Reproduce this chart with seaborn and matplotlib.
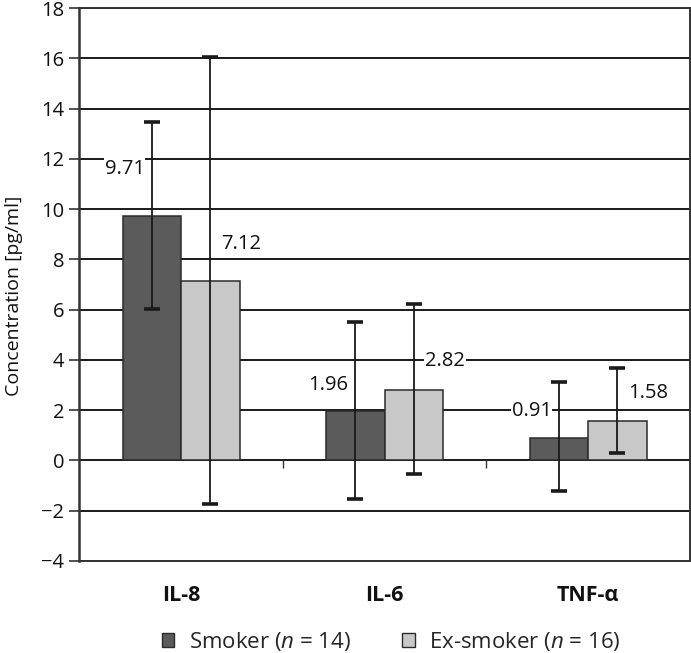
import numpy as np
import pandas as pd
import matplotlib
matplotlib.use("Agg")
import matplotlib.pyplot as plt
import seaborn as sns
from matplotlib.patches import Patch

# Datos
citoquinas = ["IL-8", "IL-6", "TNF-α"]
grupos = ["Smoker", "Ex-smoker"]
smoker = [9.71, 1.96, 0.91]
ex_smoker = [7.12, 2.82, 1.58]
# extremos de las barras de error (inferior, superior)
smoker_low = [6.02, -1.55, -1.20]
smoker_high = [13.45, 5.51, 3.13]
ex_low = [-1.74, -0.53, 0.28]
ex_high = [16.05, 6.24, 3.69]
leyenda = ["Smoker ($n$ = 14)", "Ex-smoker ($n$ = 16)"]

sns.set_style("white")
plt.rcParams["font.family"] = ["Open Sans", "DejaVu Sans"]
plt.rcParams["mathtext.fontset"] = "custom"
plt.rcParams["mathtext.it"] = "Open Sans:italic"
plt.rcParams["mathtext.rm"] = "Open Sans"

df = pd.DataFrame({
    "cit": citoquinas * 2,
    "grupo": [grupos[0]] * 3 + [grupos[1]] * 3,
    "valor": smoker + ex_smoker,
})

colores = ["#5b5b5b", "#c8c8c8"]
borde = "#2b2b2b"

fig = plt.figure(figsize=(6.91, 6.53), dpi=100)
ax = fig.add_axes([0.1148, 0.1409, 0.8837, 0.8468])

sns.barplot(data=df, x="cit", y="valor", hue="grupo", order=citoquinas,
            hue_order=grupos, palette=colores, width=0.575, errorbar=None,
            edgecolor=borde, linewidth=1.1, legend=False, ax=ax, zorder=3)

# barras de error y etiquetas
medias = [smoker, ex_smoker]
bajos = [smoker_low, ex_low]
altos = [smoker_high, ex_high]
dy = [[1.9, 1.05, 1.04], [1.5, 1.13, 1.1]]
barras = list(ax.containers)
for k, cont in enumerate(barras):
    xs = [p.get_x() + p.get_width() / 2 for p in cont.patches]
    m = np.array(medias[k])
    yerr = [m - np.array(bajos[k]), np.array(altos[k]) - m]
    ax.errorbar(xs, m, yerr=yerr, fmt="none", ecolor="#1a1a1a", elinewidth=1.3,
                capsize=6, capthick=2.6, zorder=4)
    for x, v, d in zip(xs, m, dy[k]):
        if k == 0:
            ax.text(x - 0.035, v + d, f"{v:.2f}", ha="right", va="center",
                    fontsize=14.5, color="#111111", zorder=5,
                    bbox=dict(facecolor="white", edgecolor="none", pad=0.5))
        else:
            ax.text(x + 0.055, v + d, f"{v:.2f}", ha="left", va="center",
                    fontsize=14.5, color="#111111", zorder=5,
                    bbox=dict(facecolor="white", edgecolor="none", pad=0.5))

ax.set_ylim(-4, 18)
ax.set_xlim(-0.5, len(citoquinas) - 0.5)
ax.set_yticks(np.arange(-4, 19, 2))
ax.set_yticklabels([str(t).replace("-", "\u2212") for t in range(-4, 19, 2)])
ax.yaxis.grid(True, color="#1a1a1a", linewidth=1.4, zorder=0)
ax.set_axisbelow(True)

# marcas entre categorias sobre el eje en 0
limites = np.arange(len(citoquinas) - 1) + 0.5
ax.vlines(limites, -0.3, 0, color="#333333", linewidth=1.0, zorder=2)

for s in ["left", "right", "bottom", "top"]:
    ax.spines[s].set_visible(True)
    ax.spines[s].set_color("#333333")
    ax.spines[s].set_linewidth(1.4)
ax.spines["left"].set_linewidth(1.8)

ax.tick_params(axis="y", which="both", left=True, length=7, width=1.2,
               color="#333333", labelsize=14.5, labelcolor="#111111", pad=4)
ax.tick_params(axis="x", length=0, pad=17, labelsize=15.5, labelcolor="#111111")
for t in ax.get_xticklabels():
    t.set_fontweight("bold")
ax.set_xlabel("")
ax.set_ylabel("Concentration [pg/ml]", fontsize=14, color="#111111")
ax.yaxis.set_label_coords(-0.092, 0.48)

handles = [Patch(facecolor=c, edgecolor=borde, linewidth=1.0) for c in colores]
fig.legend(handles, leyenda, loc="center", bbox_to_anchor=(0.566, 0.018),
           ncol=2, frameon=False, fontsize=16, handlelength=0.58,
           handleheight=0.58, handletextpad=0.64, columnspacing=2.3,
           borderpad=0, borderaxespad=0)

fig.savefig("out.png", dpi=100)
